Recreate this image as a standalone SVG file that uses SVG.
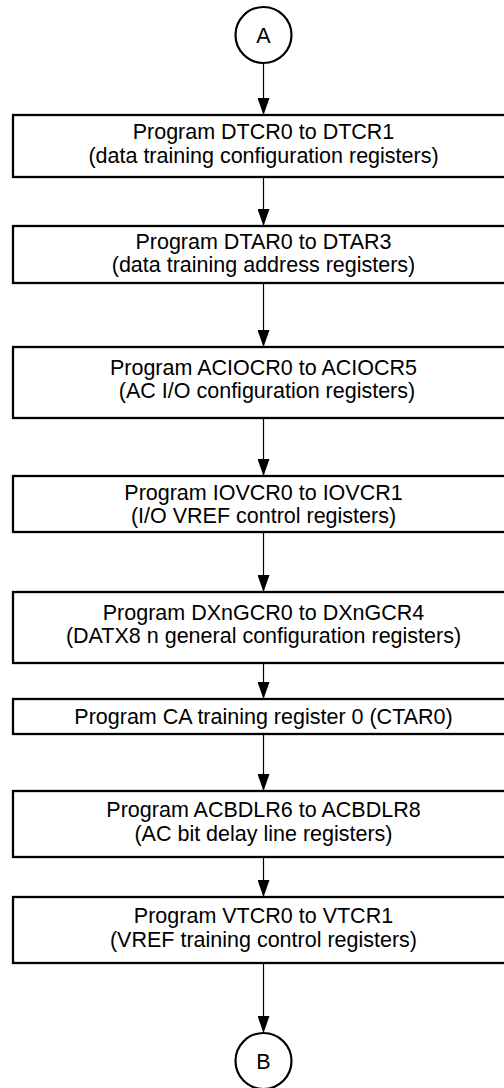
<svg xmlns="http://www.w3.org/2000/svg" width="504" height="1088" viewBox="0 0 504 1088">
<style>
.box{fill:#fff;stroke:#000;stroke-width:2.3}
.circ{fill:#fff;stroke:#000;stroke-width:2.2}
.t{font-family:"Liberation Sans",Arial,sans-serif;font-size:21.5px;fill:#000;text-anchor:middle}
.edge{stroke:#000;stroke-width:1.2;fill:none;marker-end:url(#arr)}
</style>
<defs>
<marker id="arr" viewBox="0 0 17 12" refX="17" refY="6" markerWidth="17" markerHeight="12" markerUnits="userSpaceOnUse" orient="auto">
<path d="M0,0 L17,6 L0,12 Z" fill="#000"/>
</marker>
</defs>
<rect width="504" height="1088" fill="#fff"/>
<g id="connectors">
<line class="edge" x1="263.5" y1="63" x2="263.5" y2="115"/>
<line class="edge" x1="263.5" y1="177" x2="263.5" y2="226"/>
<line class="edge" x1="263.5" y1="283" x2="263.5" y2="347"/>
<line class="edge" x1="263.5" y1="418" x2="263.5" y2="476"/>
<line class="edge" x1="263.5" y1="532" x2="263.5" y2="592"/>
<line class="edge" x1="263.5" y1="663" x2="263.5" y2="699"/>
<line class="edge" x1="263.5" y1="734" x2="263.5" y2="791"/>
<line class="edge" x1="263.5" y1="857" x2="263.5" y2="897"/>
<line class="edge" x1="263.5" y1="963" x2="263.5" y2="1033"/>
</g>
<g id="nodeA">
<circle class="circ" cx="263.5" cy="35" r="28"/>
<text class="t" x="263.5" y="42.5">A</text>
</g>
<g id="node1">
<rect class="box" x="13" y="115" width="501" height="62"/>
<text class="t" x="263.5" y="138.5">Program DTCR0 to DTCR1</text>
<text class="t" x="263.5" y="162.5">(data training configuration registers)</text>
</g>
<g id="node2">
<rect class="box" x="13" y="226" width="501" height="57"/>
<text class="t" x="263.5" y="248.5">Program DTAR0 to DTAR3</text>
<text class="t" x="263.5" y="271.5">(data training address registers)</text>
</g>
<g id="node3">
<rect class="box" x="13" y="347" width="501" height="71"/>
<text class="t" x="263.5" y="374.5">Program ACIOCR0 to ACIOCR5</text>
<text class="t" x="267" y="397.5">(AC I/O configuration registers)</text>
</g>
<g id="node4">
<rect class="box" x="13" y="476" width="501" height="56"/>
<text class="t" x="263.5" y="499.5">Program IOVCR0 to IOVCR1</text>
<text class="t" x="263.5" y="522.5">(I/O VREF control registers)</text>
</g>
<g id="node5">
<rect class="box" x="13" y="592" width="501" height="71"/>
<text class="t" x="263.5" y="619.5">Program DXnGCR0 to DXnGCR4</text>
<text class="t" x="263.5" y="642.5">(DATX8 n general configuration registers)</text>
</g>
<g id="node6">
<rect class="box" x="13" y="699" width="501" height="35"/>
<text class="t" x="263.5" y="723.5">Program CA training register 0 (CTAR0)</text>
</g>
<g id="node7">
<rect class="box" x="13" y="791" width="501" height="66"/>
<text class="t" x="263.5" y="816.5">Program ACBDLR6 to ACBDLR8</text>
<text class="t" x="263.5" y="840.5">(AC bit delay line registers)</text>
</g>
<g id="node8">
<rect class="box" x="13" y="897" width="501" height="66"/>
<text class="t" x="263.5" y="922.5">Program VTCR0 to VTCR1</text>
<text class="t" x="263.5" y="946.5">(VREF training control registers)</text>
</g>
<g id="nodeB">
<circle class="circ" cx="263.5" cy="1061" r="28"/>
<text class="t" x="263.5" y="1068.5">B</text>
</g>
</svg>
